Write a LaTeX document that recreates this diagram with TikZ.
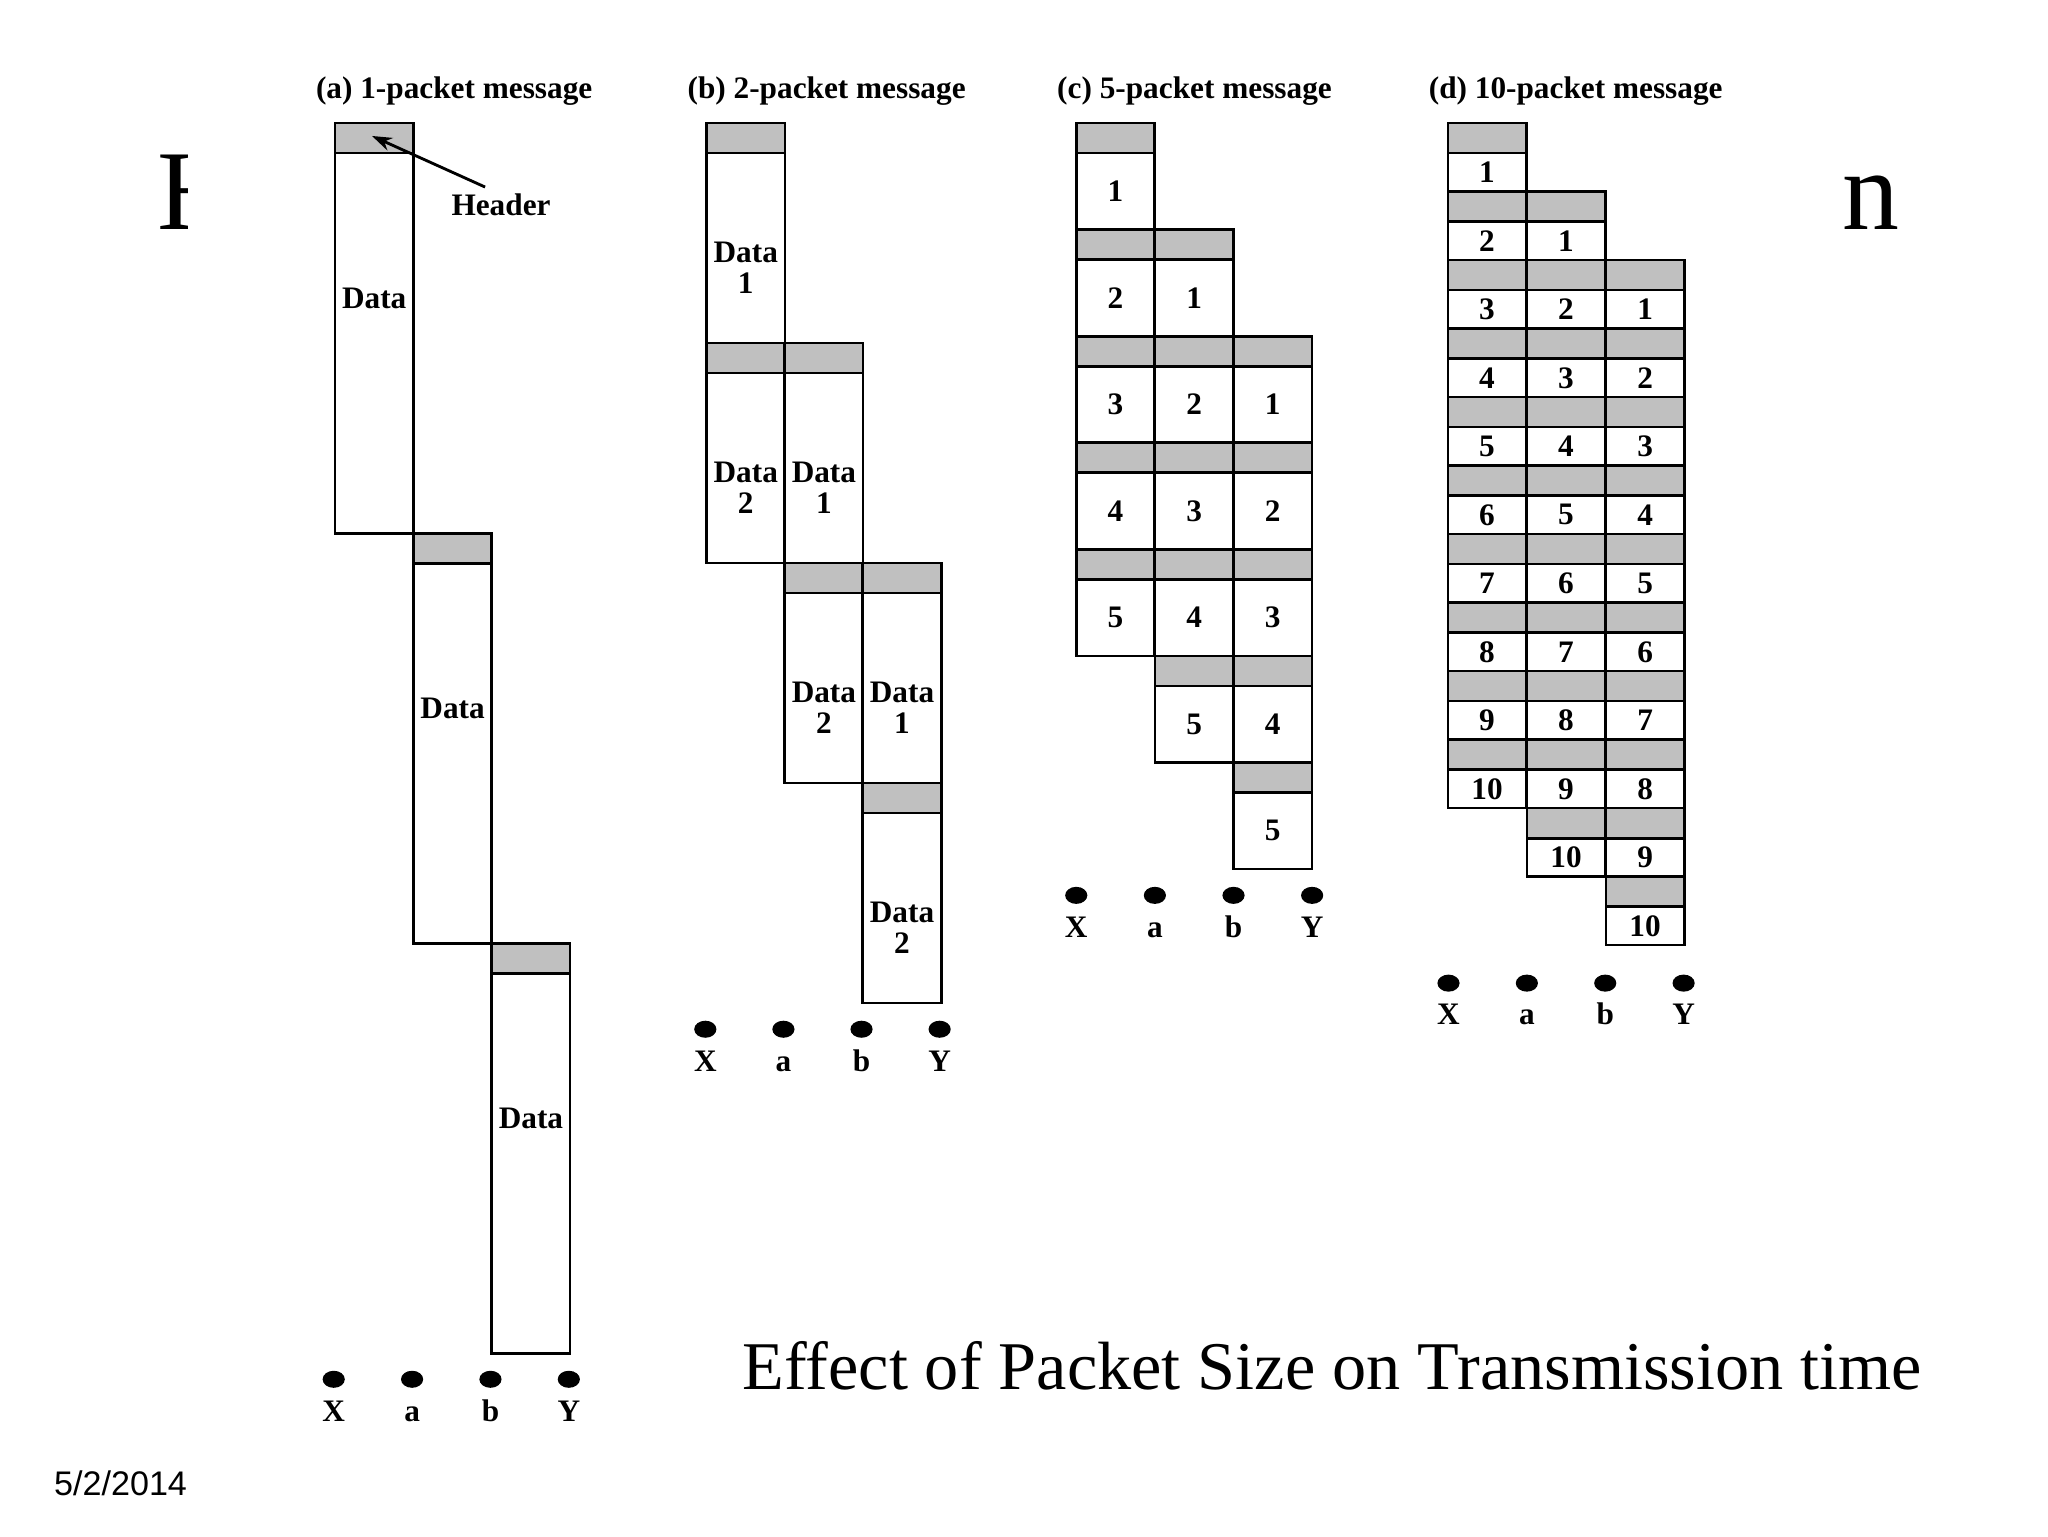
\documentclass[tikz,border=0pt]{standalone}
\usepackage{fontspec}
\setmainfont{Liberation Serif}
\newfontfamily\arialfont{Liberation Sans}
\usetikzlibrary{arrows.meta,shapes.geometric}
\definecolor{hdrgray}{RGB}{192,192,192}
% #1 name, #2 x left, #3 top, #4 total height, #5 label offset from top, #6 label
\newcommand{\pkt}[6]{%
  \draw[boxline, fill=hdrgray] (#2,#3) rectangle ++(60,23);
  \draw[boxline] (#2,#3+23) rectangle ++(60,#4-23);
  \node[lbl] (#1) at (#2+30,#3+#5) {#6};
}
\begin{document}
\begin{tikzpicture}[x=0.4592pt,y=-0.4592pt,
  boxline/.style={line width=0.95pt, line join=miter},
  lbl/.style={font=\fontsize{11}{11}\selectfont\bfseries, inner sep=0pt, align=center},
  dotlbl/.style={font=\fontsize{11}{11}\selectfont\bfseries, inner sep=0pt, anchor=base},
  dotnode/.style={ellipse, fill=black, draw=none, minimum width=7.8pt, minimum height=6pt, inner sep=0pt},
  ttl/.style={font=\fontsize{11}{13}\selectfont\bfseries, anchor=west, inner sep=0pt},
  bigttl/.style={font=\fontsize{40}{40}\selectfont, anchor=base west, inner sep=0pt},
]
\useasboundingbox (0,0) rectangle (1568,1176);

% partly hidden slide title
\begin{scope}
  \clip (0,0) rectangle (143.2,300);
  \node[bigttl] (titleH) at (120,176) {H};
\end{scope}
\node[bigttl] (titlen) at (1410,176) {n};

% panel titles
\node[ttl] (ta) at (241.5,69.5) {(a) 1-packet message};
\node[ttl] (tb) at (526,69.5) {(b) 2-packet message};
\node[ttl] (tc) at (809,69.5) {(c) 5-packet message};
\node[ttl] (td) at (1093.5,69.5) {(d) 10-packet message};

% (a) 1-packet message
\foreach \i in {0,1,2} {
  \pgfmathsetmacro\xl{256.5+60*\i}
  \pgfmathsetmacro\tp{94.2+314*\i}
  \pkt{a\i}{\xl}{\tp}{314}{134}{Data}
}
\node[lbl] (hdr) at (383.6,157) {Header};
\coordinate (htail) at (371.4,143.2);
\coordinate (hhead) at (284.8,104.1);
\draw[line width=1pt, -{Stealth[length=7pt,width=4.8pt]}] (htail) -- (hhead);

% (b) 2-packet message
\foreach \i in {0,1,2} {
  \foreach \j in {0,1} {
    \pgfmathsetmacro\xl{541+59.8*\i}
    \pgfmathsetmacro\tp{94.2+168.4*(\i+\j)}
    \pgfmathtruncatemacro\k{\j+1}
    \pkt{b\i\j}{\xl}{\tp}{168.4}{111}{Data\\\k}
  }
}

% (c) 5-packet message
\foreach \i in {0,1,2} {
  \foreach \j in {0,...,4} {
    \pgfmathsetmacro\xl{824+60.2*\i}
    \pgfmathsetmacro\tp{94.2+81.6*(\i+\j)}
    \pgfmathtruncatemacro\k{\j+1}
    \pkt{c\i\j}{\xl}{\tp}{81.6}{52.3}{\k}
  }
}

% (d) 10-packet message
\foreach \i in {0,1,2} {
  \foreach \j in {0,...,9} {
    \pgfmathsetmacro\xl{1108.5+60.5*\i}
    \pgfmathsetmacro\tp{94.2+52.45*(\i+\j)}
    \pgfmathtruncatemacro\k{\j+1}
    \pkt{d\i\j}{\xl}{\tp}{52.45}{37.7}{\k}
  }
}

% node dots and names
\foreach \lab [count=\n from 0] in {X,a,b,Y} {
  \node[dotnode] (adot\n) at (255.5+60*\n,1056) {};
  \node[dotlbl] (alab\n) at (255.5+60*\n,1088) {\lab};
  \node[dotnode] (bdot\n) at (540+59.8*\n,788) {};
  \node[dotlbl] (blab\n) at (540+59.8*\n,820) {\lab};
  \node[dotnode] (cdot\n) at (824+60.2*\n,685.5) {};
  \node[dotlbl] (clab\n) at (824+60.2*\n,717.5) {\lab};
  \node[dotnode] (ddot\n) at (1109+60*\n,752.7) {};
  \node[dotlbl] (dlab\n) at (1109+60*\n,784.5) {\lab};
}

% caption and date
\node[anchor=base west, inner sep=0pt, font=\fontsize{24}{24}\selectfont] (caption) at (568,1064) {Effect of Packet Size on Transmission time};
\node[anchor=base west, inner sep=0pt, font=\arialfont\fontsize{12}{12}\selectfont] (date) at (41,1145) {5/2/2014};
\end{tikzpicture}
\end{document}
